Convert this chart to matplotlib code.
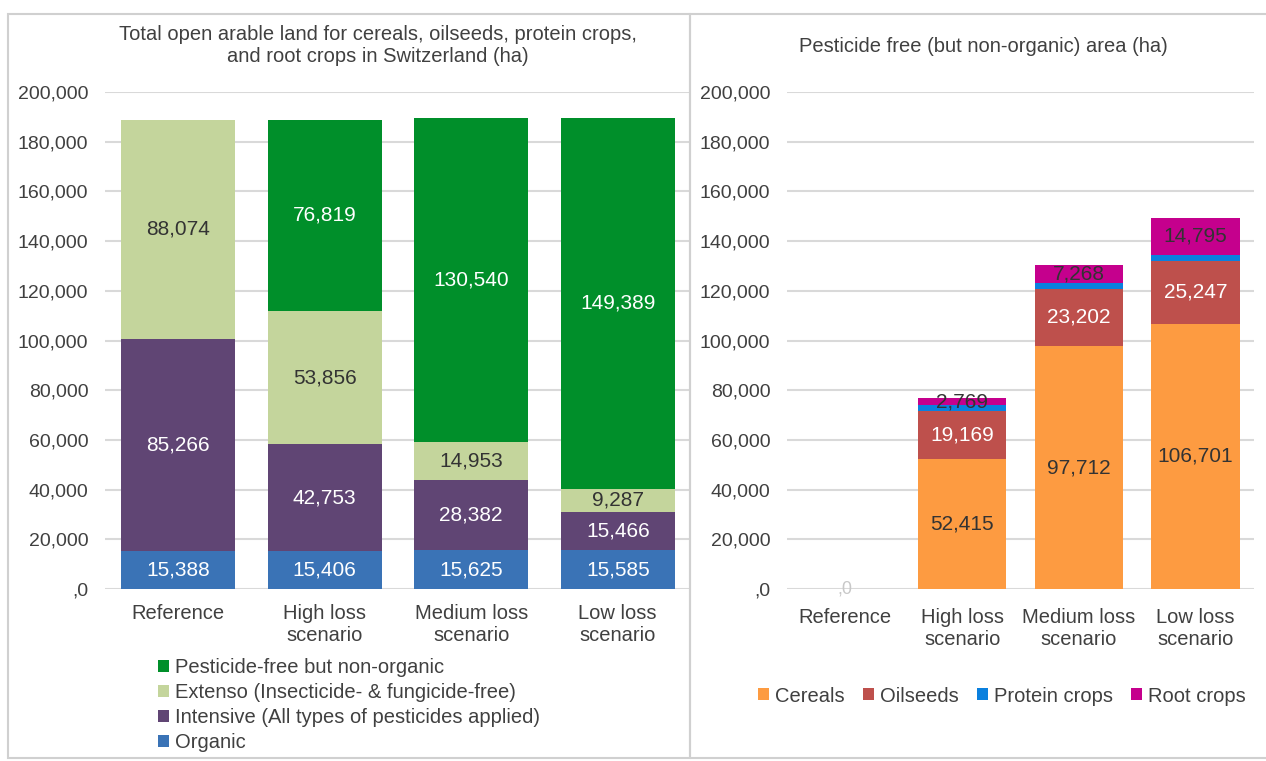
import numpy as np
import matplotlib.pyplot as plt
from matplotlib.patches import Rectangle
from matplotlib.ticker import FuncFormatter

plt.rcParams["font.family"] = ["Liberation Sans", "DejaVu Sans"]

SCENARIOS = ["Reference", "High loss\nscenario", "Medium loss\nscenario", "Low loss\nscenario"]

# arable land by farming system (ha)
ORGANIC = [15388, 15406, 15625, 15585]
INTENSIVE = [85266, 42753, 28382, 15466]
EXTENSO = [88074, 53856, 14953, 9287]
PESTICIDE_FREE = [0, 76819, 130540, 149389]

# pesticide-free area by crop group (ha)
CEREALS = [0, 52415, 97712, 106701]
OILSEEDS = [0, 19169, 23202, 25247]
PROTEIN = [0, 2466, 2358, 2646]
ROOT = [0, 2769, 7268, 14795]

LEFT_SERIES = [
    ("Organic", ORGANIC, "#3A73B6", "white"),
    ("Intensive (All types of pesticides applied)", INTENSIVE, "#604574", "white"),
    ("Extenso (Insecticide- & fungicide-free)", EXTENSO, "#C4D59C", "#333333"),
    ("Pesticide-free but non-organic", PESTICIDE_FREE, "#008F2A", "white"),
]
RIGHT_SERIES = [
    ("Cereals", CEREALS, "#FD9B41", "#333333", True),
    ("Oilseeds", OILSEEDS, "#BE504C", "white", True),
    ("Protein crops", PROTEIN, "#0A80DE", "#333333", False),
    ("Root crops", ROOT, "#C5008D", "#333333", True),
]

W, H = 1266, 761
GRID = "#D9D9D9"
TEXT = "#404040"


def tick_fmt(v, pos):
    if v == 0:
        return ",0"
    return f"{v:,.0f}"


def style_axes(ax, xpad):
    ax.set_ylim(0, 200000)
    ax.set_yticks(np.arange(0, 200001, 20000))
    ax.yaxis.set_major_formatter(FuncFormatter(tick_fmt))
    ax.set_xlim(-0.5, 3.5)
    ax.set_xticks(range(4))
    ax.set_xticklabels(SCENARIOS)
    ax.grid(axis="y", color=GRID, lw=1.5)
    ax.set_axisbelow(True)
    for s in ax.spines.values():
        s.set_visible(False)
    ax.tick_params(axis="y", length=0, pad=12, labelsize=14, labelcolor=TEXT)
    ax.tick_params(axis="x", length=0, pad=xpad, labelsize=14.5, labelcolor=TEXT)


def stack(ax, series, width):
    x = np.arange(4)
    bottom = np.zeros(4)
    handles = []
    for item in series:
        name, vals, color, tcolor = item[:4]
        show = item[4] if len(item) > 4 else True
        vals = np.array(vals, dtype=float)
        bars = ax.bar(x, vals, width, bottom=bottom, color=color, label=name)
        handles.append(bars)
        if show:
            labels = [f"{v:,.0f}" if v > 0 else "" for v in vals]
            ax.bar_label(bars, labels=labels, label_type="center",
                         fontsize=15, color=tcolor)
        bottom += vals
    return handles


fig = plt.figure(figsize=(W / 100, H / 100), dpi=100)

# panel frames
fig.patches.append(Rectangle((8 / W, 1 - 758 / H), 682 / W, 744 / H, transform=fig.transFigure,
                             fill=False, edgecolor="#D0D0D0", lw=1.5))
fig.patches.append(Rectangle((690 / W, 1 - 758 / H), 590 / W, 744 / H, transform=fig.transFigure,
                             fill=False, edgecolor="#D0D0D0", lw=1.5))

ax1 = fig.add_axes([105 / W, 1 - 589 / H, 586 / W, 497 / H])
style_axes(ax1, 11)
h1 = stack(ax1, LEFT_SERIES, 0.78)
fig.text(378 / W, 1 - 45 / H,
         "Total open arable land for cereals, oilseeds, protein crops,\nand root crops in Switzerland (ha)",
         ha="center", va="center", fontsize=14.5, color=TEXT, linespacing=1.2)
fig.legend(h1[::-1], [s[0] for s in LEFT_SERIES][::-1], loc="upper left",
           bbox_to_anchor=(150 / W, 1 - 650 / H), frameon=False, fontsize=14.5,
           handlelength=0.55, handleheight=0.55, handletextpad=0.3, labelspacing=0.3,
           labelcolor=TEXT, borderaxespad=0)

ax2 = fig.add_axes([787 / W, 1 - 589 / H, 467 / W, 497 / H])
style_axes(ax2, 14)
h2 = stack(ax2, RIGHT_SERIES, 0.76)
ax2.text(0, 0, ",0", ha="center", va="center", fontsize=13, color="#C8C8C8")
fig.text(983 / W, 1 - 46 / H, "Pesticide free (but non-organic) area (ha)",
         ha="center", va="center", fontsize=14.5, color=TEXT)
fig.legend(h2, [s[0] for s in RIGHT_SERIES], loc="center",
           bbox_to_anchor=(1002 / W, 1 - 696 / H), ncol=4, frameon=False, fontsize=14.5,
           handlelength=0.55, handleheight=0.55, handletextpad=0.3, columnspacing=0.9,
           labelcolor=TEXT, borderaxespad=0)

fig.savefig("out.png", dpi=100)
